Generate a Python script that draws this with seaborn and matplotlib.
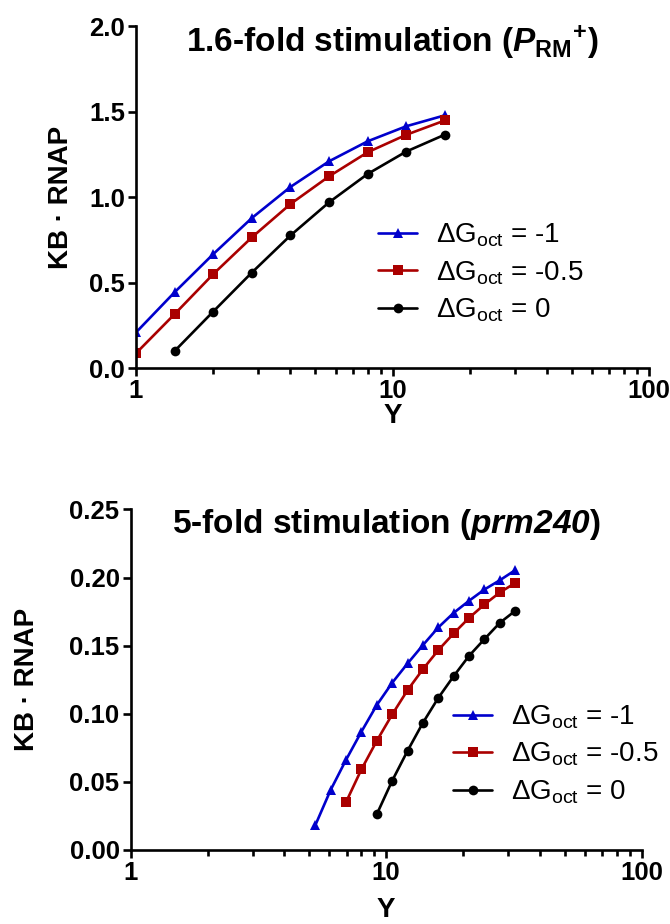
import matplotlib
matplotlib.use('Agg')
import matplotlib.pyplot as plt
import matplotlib.ticker as mticker
import seaborn as sns
import pandas as pd

# legend labels for the three octamer free energies
labels = ['ΔG$_{\\mathrm{oct}}$ = -1', 'ΔG$_{\\mathrm{oct}}$ = -0.5', 'ΔG$_{\\mathrm{oct}}$ = 0']
colors = ['#0000CC', '#AA0000', '#000000']
marks = ['^', 's', 'o']

# top panel: 1.6-fold stimulation
top_x_blue = [1, 1.414, 2, 2.828, 4, 5.657, 8, 11.31, 16]
top_y_blue = [0.21, 0.445, 0.668, 0.879, 1.061, 1.211, 1.328, 1.416, 1.480]
top_x_red = [1, 1.414, 2, 2.828, 4, 5.657, 8, 11.31, 16]
top_y_red = [0.088, 0.317, 0.551, 0.766, 0.961, 1.123, 1.264, 1.366, 1.450]
top_x_black = [1.414, 2, 2.828, 4, 5.657, 8, 11.31, 16]
top_y_black = [0.101, 0.332, 0.560, 0.777, 0.971, 1.137, 1.268, 1.367]

# bottom panel: 5-fold stimulation
bot_x_blue = [5.28, 6.06, 6.96, 8.0, 9.19, 10.56, 12.13, 13.93, 16.0, 18.38, 21.11, 24.25, 27.86, 32.0]
bot_y_blue = [0.0178, 0.0437, 0.0658, 0.0866, 0.1062, 0.1226, 0.1368, 0.1503, 0.1633, 0.1740,
              0.1829, 0.1912, 0.1980, 0.2054]
bot_x_red = [6.96, 8.0, 9.19, 10.56, 12.13, 13.93, 16.0, 18.38, 21.11, 24.25, 27.86, 32.0]
bot_y_red = [0.0347, 0.0589, 0.0799, 0.0993, 0.1172, 0.1326, 0.1466, 0.1589, 0.1703, 0.1802,
             0.1890, 0.1960]
bot_x_black = [9.19, 10.56, 12.13, 13.93, 16.0, 18.38, 21.11, 24.25, 27.86, 32.0]
bot_y_black = [0.0259, 0.0506, 0.0726, 0.0932, 0.1115, 0.1275, 0.1424, 0.1547, 0.1667, 0.1755]


def long_df(xs, ys):
    rows = []
    for lab, x, y in zip(labels, xs, ys):
        for a, b in zip(x, y):
            rows.append({'Y': a, 'val': b, 'series': lab})
    return pd.DataFrame(rows)


sns.set_style('ticks')
plt.rcParams['font.family'] = ['Liberation Sans', 'DejaVu Sans']
plt.rcParams['text.color'] = 'black'
plt.rcParams['axes.labelcolor'] = 'black'
plt.rcParams['mathtext.fontset'] = 'custom'
plt.rcParams['mathtext.rm'] = 'Liberation Sans'
plt.rcParams['mathtext.it'] = 'Liberation Sans:italic'
plt.rcParams['mathtext.bf'] = 'Liberation Sans:bold'
plt.rcParams['mathtext.bfit'] = 'Liberation Sans:italic:bold'

fig = plt.figure(figsize=(6.7, 9.24), dpi=100)
ax1 = fig.add_axes([0.203, 0.6014, 0.7657, 0.370])
ax2 = fig.add_axes([0.195, 0.0806, 0.7627, 0.368])


def draw(ax, df, ylim, yticks, fmt, title, leg_x, xpad, ypad):
    sns.lineplot(data=df, x='Y', y='val', hue='series', style='series',
                 hue_order=labels, style_order=labels, palette=colors,
                 markers=marks, dashes=False, linewidth=1.9, markersize=7,
                 markeredgewidth=0, ax=ax)
    ax.set_xscale('log')
    ax.set_xlim(1, 100)
    ax.set_ylim(*ylim)
    ax.set_yticks(yticks)
    ax.yaxis.set_major_formatter(mticker.FormatStrFormatter(fmt))
    ax.xaxis.set_major_formatter(mticker.FuncFormatter(lambda v, p: '%g' % v))
    ax.xaxis.set_minor_locator(mticker.LogLocator(base=10, subs=range(2, 10)))
    ax.xaxis.set_minor_formatter(mticker.NullFormatter())
    for s in ['top', 'right']:
        ax.spines[s].set_visible(False)
    for s in ['left', 'bottom']:
        ax.spines[s].set_linewidth(1.9)
        ax.spines[s].set_color('black')
    ax.tick_params(which='major', length=6, width=1.9, colors='black', labelsize=18.5, pad=2)
    ax.tick_params(which='minor', length=4, width=1.9, colors='black')
    for t in ax.get_xticklabels() + ax.get_yticklabels():
        t.set_fontweight('bold')
    ax.set_xlabel('Y', fontsize=20, fontweight='bold', labelpad=xpad)
    ax.set_ylabel('KB · RNAP', fontsize=20, fontweight='bold', labelpad=ypad)
    ax.text(0.5, 0.955, title, transform=ax.transAxes, ha='center', va='center',
            fontsize=24, fontweight='bold')
    ax.legend(loc='center left', bbox_to_anchor=(leg_x, 0.279), frameon=False,
              fontsize=20, handlelength=1.4, handletextpad=0.68, labelspacing=0.36,
              borderpad=0, borderaxespad=0)


draw(ax1, long_df([top_x_blue, top_x_red, top_x_black], [top_y_blue, top_y_red, top_y_black]),
     (0, 2.0), [0, 0.5, 1.0, 1.5, 2.0], '%.1f',
     '1.6-fold stimulation ($\\mathbfit{P}_{\\mathbf{RM}}{}^{\\mathbf{+}}$)', 0.472, 0, 11)
draw(ax2, long_df([bot_x_blue, bot_x_red, bot_x_black], [bot_y_blue, bot_y_red, bot_y_black]),
     (0, 0.25), [0, 0.05, 0.10, 0.15, 0.20, 0.25], '%.2f',
     '5-fold stimulation ($\\mathbfit{prm240}$)', 0.631, 9, 21)

fig.savefig('out.png', dpi=100)
